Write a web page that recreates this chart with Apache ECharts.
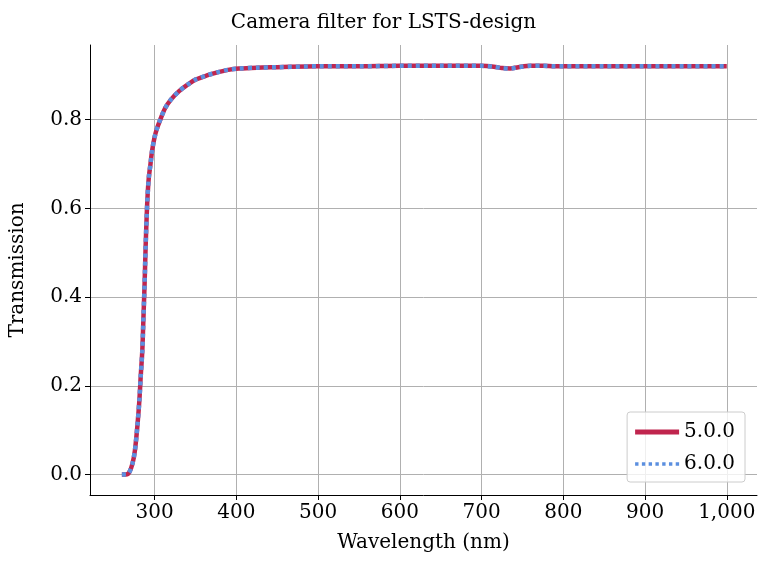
<!DOCTYPE html>
<html><head><meta charset="utf-8">
<script src="https://cdn.jsdelivr.net/npm/echarts@6/dist/echarts.min.js"></script>
<style>html,body{margin:0;padding:0;background:#fff}#c{width:767px;height:568px}</style>
</head><body><div id="c"></div>
<script>
const wavelength = [260,265,269,273,276,279,281.4,283,285,286.5,287.8,289,290.3,291.5,293,295,297,300,303,307,313,320,330,340,350,365,378,390,403,425,450,500,550,600,650,700,715,725,735,745,760,775,790,800,850,900,950,1000];
const trans500 = [0,0,0.005,0.025,0.055,0.11,0.167,0.22,0.28,0.36,0.43,0.51,0.58,0.63,0.67,0.70,0.73,0.76,0.78,0.80,0.826,0.845,0.864,0.878,0.89,0.90,0.907,0.912,0.915,0.917,0.918,0.92,0.92,0.921,0.921,0.921,0.919,0.916,0.915,0.918,0.921,0.921,0.92,0.92,0.92,0.92,0.92,0.92];
const trans600 = trans500.slice();
const seriesNames = ['5.0.0','6.0.0'];
const xTicks = [300,400,500,600,700,800,900,1000];
const yTicks = [0,0.2,0.4,0.6,0.8];
const font = 'DejaVu Serif';
const chart = echarts.init(document.getElementById('c'));
chart.setOption({
  animation:false,
  title:{text:'Camera filter for LSTS-design',left:'center',top:8,textStyle:{fontFamily:font,fontSize:20,fontWeight:'normal',color:'#000'}},
  grid:{left:87,right:10,top:45,bottom:73},
  legend:{right:22,bottom:86,orient:'vertical',itemWidth:44,itemHeight:5,itemGap:12,padding:[10,10,8,8],
    backgroundColor:'rgba(255,255,255,0.8)',borderColor:'#ccc',borderWidth:1,borderRadius:3,
    textStyle:{fontFamily:font,fontSize:20,color:'#000'},
    data:[{name:seriesNames[0],icon:'rect'},{name:seriesNames[1],icon:'path://M0,0h3v3h-3zM6,0h3v3h-3zM12,0h3v3h-3zM18,0h3v3h-3zM24,0h3v3h-3zM30,0h3v3h-3zM36,0h3v3h-3z'}]},
  xAxis:{type:'value',min:221,max:1037,
    name:'Wavelength (nm)',nameLocation:'middle',nameGap:38,nameTextStyle:{fontFamily:font,fontSize:20,color:'#000'},
    axisLine:{onZero:false,lineStyle:{color:'#000'}},axisTick:{show:true,length:5,customValues:xTicks,lineStyle:{color:'#000'}},
    axisLabel:{fontFamily:font,fontSize:20,color:'#000',customValues:xTicks},
    splitLine:{show:true,lineStyle:{color:'#b0b0b0',width:1}}},
  yAxis:{type:'value',min:-0.046,max:0.968,
    name:'Transmission',nameLocation:'middle',nameGap:62,nameTextStyle:{fontFamily:font,fontSize:20,color:'#000'},
    axisLine:{show:true,lineStyle:{color:'#000'}},axisTick:{show:true,length:5,customValues:yTicks,lineStyle:{color:'#000'}},
    axisLabel:{fontFamily:font,fontSize:20,color:'#000',customValues:yTicks,formatter:v=>v.toFixed(1)},
    splitLine:{show:true,lineStyle:{color:'#b0b0b0',width:1}}},
  series:[
    {name:seriesNames[0],type:'line',smooth:0.3,showSymbol:false,data:wavelength.map((w,i)=>[w,trans500[i]]),
      lineStyle:{color:'#c0254e',width:4.5},itemStyle:{color:'#c0254e'}},
    {name:seriesNames[1],type:'line',smooth:0.3,showSymbol:false,data:wavelength.map((w,i)=>[w,trans600[i]]),
      lineStyle:{color:'#5b8fdf',width:4.5,type:[4,4]},itemStyle:{color:'#5b8fdf'}}
  ]
});
</script></body></html>
